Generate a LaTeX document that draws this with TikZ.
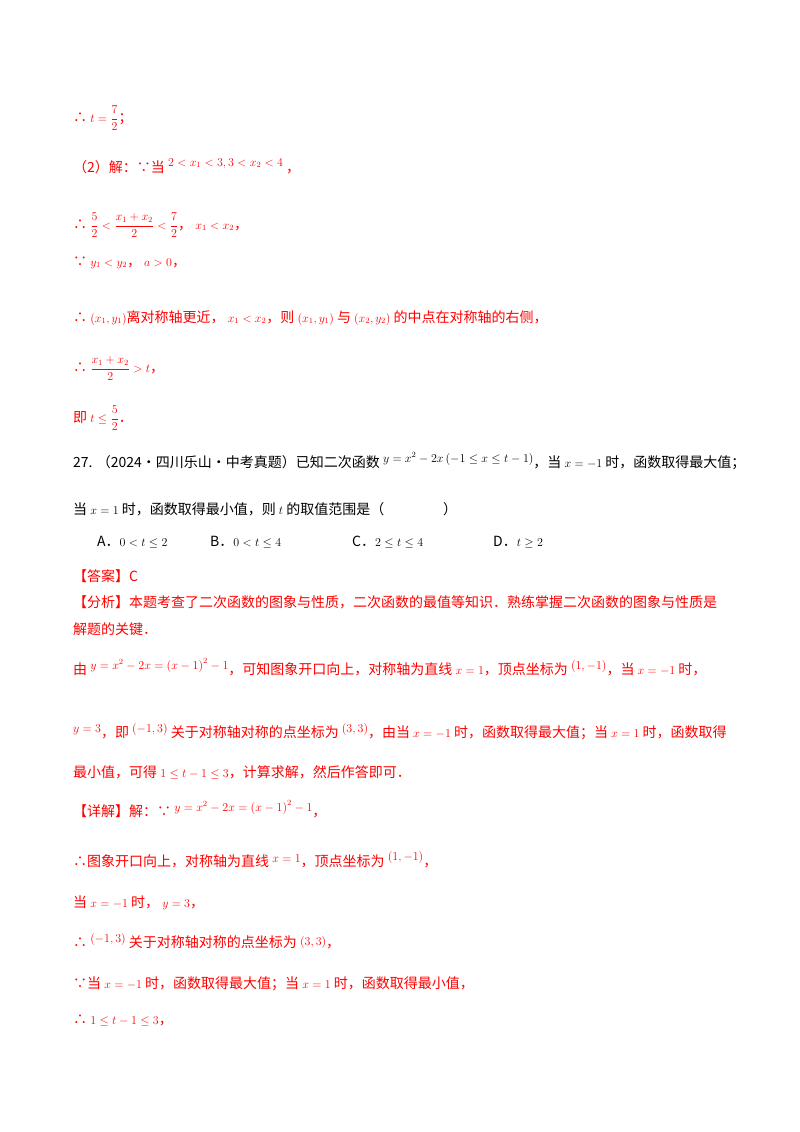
\documentclass[tikz,border=0pt]{standalone}
\usepackage{amsmath,amssymb}
\usepackage{fontspec}
\setmainfont{Liberation Serif}
\newfontfamily\cjk{Noto Sans CJK SC}
\newcommand{\mm}[1]{{\fontsize{11.5}{12}\selectfont$#1$}}
\newcommand{\md}[1]{{\fontsize{11.5}{12}\selectfont$\displaystyle #1$}}
\definecolor{rd}{RGB}{255,0,0}
\begin{document}
\begin{tikzpicture}[x=1pt,y=-1pt,
 ln/.style={anchor=base west,inner sep=0pt,font=\cjk\fontsize{14}{16}\selectfont},
 r/.style={ln,text=rd}, b/.style={ln,text=black}]
\useasboundingbox[fill=white] (0,0) rectangle (800,1132);
\node[r] (l1) at (73,122) {∴ \md{t=\frac{7}{2}}；};
\node[r] (l2) at (73,172) {（2）解：∵当 \raisebox{6pt}{\mm{2<x_1<3,3<x_2<4}} ，};
\node[r] (l3) at (73,229) {∴ \md{\frac{5}{2}<\frac{x_1+x_2}{2}<\frac{7}{2}}， \mm{x_1<x_2}，};
\node[r] (l4) at (73,266) {∵ \mm{y_1<y_2}， \mm{a>0}，};
\node[r] (l5) at (73,322) {∴ \mm{\left(x_1,y_1\right)}离对称轴更近， \mm{x_1<x_2}，则 \mm{\left(x_1,y_1\right)} 与 \mm{\left(x_2,y_2\right)} 的中点在对称轴的右侧，};
\node[r] (l6) at (73,372) {∴ \md{\frac{x_1+x_2}{2}>t}，};
\node[r] (l7) at (73,422) {即 \md{t\le\frac{5}{2}}．};
\node[b] (l8) at (73,467) {27. （2024·四川乐山·中考真题）已知二次函数 \raisebox{5pt}{\mm{y=x^2-2x\left(-1\le x\le t-1\right)}}，当 \mm{x=-1} 时，函数取得最大值；};
\node[b] (l9) at (73,514) {当 \mm{x=1} 时，函数取得最小值，则 \mm{t} 的取值范围是（\hspace{4.2em}）};
\node[b] (oa) at (97,546) {A．\mm{0<t\le2}};
\node[b] (ob) at (210,546) {B．\mm{0<t\le4}};
\node[b] (oc) at (352,546) {C．\mm{2\le t\le4}};
\node[b] (od) at (493,546) {D．\mm{t\ge2}};
\node[r] (ans) at (73,581) {【答案】C};
\node[r] (an1) at (73,607) {【分析】本题考查了二次函数的图象与性质，二次函数的最值等知识．熟练掌握二次函数的图象与性质是};
\node[r] (an2) at (73,634) {解题的关键．};
\node[r] (an3) at (73,674) {由 \raisebox{5pt}{\mm{y=x^2-2x=\left(x-1\right)^2-1}}，可知图象开口向上，对称轴为直线 \mm{x=1}，顶点坐标为 \raisebox{5pt}{\mm{\left(1,-1\right)}}，当 \mm{x=-1} 时，};
\node[r] (an4) at (73,737) {\raisebox{5pt}{\mm{y=3}}，即 \raisebox{5pt}{\mm{\left(-1,3\right)}} 关于对称轴对称的点坐标为 \raisebox{5pt}{\mm{\left(3,3\right)}}，由当 \mm{x=-1} 时，函数取得最大值；当 \mm{x=1} 时，函数取得};
\node[r] (an5) at (73,777) {最小值，可得 \mm{1\le t-1\le3}，计算求解，然后作答即可．};
\node[r] (d1) at (73,816) {【详解】解：∵ \raisebox{5pt}{\mm{y=x^2-2x=\left(x-1\right)^2-1}}，};
\node[r] (d2) at (73,866) {∴图象开口向上，对称轴为直线 \raisebox{4pt}{\mm{x=1}}，顶点坐标为 \raisebox{6pt}{\mm{\left(1,-1\right)}}，};
\node[r] (d3) at (73,907) {当 \mm{x=-1} 时， \mm{y=3}，};
\node[r] (d4) at (73,947) {∴ \raisebox{5pt}{\mm{\left(-1,3\right)}} 关于对称轴对称的点坐标为 \raisebox{2pt}{\mm{\left(3,3\right)}}，};
\node[r] (d5) at (73,988) {∵当 \mm{x=-1} 时，函数取得最大值；当 \mm{x=1} 时，函数取得最小值，};
\node[r] (d6) at (73,1024) {∴ \mm{1\le t-1\le3}，};
\end{tikzpicture}
\end{document}
